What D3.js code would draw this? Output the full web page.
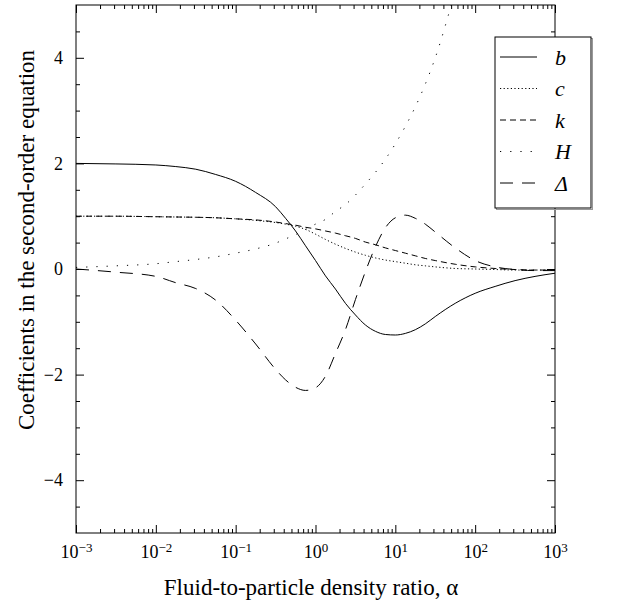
<!DOCTYPE html>
<html lang="en">
<head>
<meta charset="utf-8">
<title>Coefficients in the second-order equation</title>
<script src="https://d3js.org/d3.v7.min.js"></script>
<style>
	body { margin: 0; background: #fff; }
	svg text { font-family: "Liberation Serif", "Times New Roman", "DejaVu Serif", serif; fill: #000; }
	.axis text { font-size: 18px; }
	.axis line { stroke: #000; stroke-width: 1; }
	.axis-title { font-size: 23px; }
	.legend-label { font-size: 22px; font-style: italic; }
	.curve { fill: none; stroke: #000; stroke-width: 1; }
</style>
</head>
<body>
<div id="chart"></div>
<script>
// log10 of the density ratio alpha
const logAlpha = [-3, -2.5, -2, -1.75, -1.5, -1.25, -1, -0.75, -0.5, -0.375, -0.25, -0.125, 0, 0.125, 0.25, 0.375,
	0.5, 0.625, 0.75, 0.875, 1, 1.125, 1.25, 1.375, 1.5, 1.75, 2, 2.25, 2.5, 2.75, 3];

const bVals = [2.00, 1.99, 1.97, 1.94, 1.89, 1.79, 1.66, 1.45, 1.18, 0.96, 0.72, 0.44, 0.16, -0.13, -0.38, -0.65,
	-0.87, -1.06, -1.18, -1.24, -1.25, -1.22, -1.15, -1.04, -0.90, -0.65, -0.46, -0.33, -0.22, -0.14, -0.08];
const cVals = [1.00, 1.00, 0.99, 0.985, 0.98, 0.97, 0.95, 0.92, 0.88, 0.85, 0.81, 0.75, 0.66, 0.56, 0.47, 0.39,
	0.32, 0.26, 0.21, 0.17, 0.14, 0.11, 0.08, 0.06, 0.04, 0.01, 0.00, -0.01, -0.02, -0.02, -0.02];
const kVals = [1.00, 1.00, 0.99, 0.985, 0.98, 0.97, 0.95, 0.93, 0.89, 0.86, 0.83, 0.79, 0.76, 0.72, 0.68, 0.63,
	0.58, 0.51, 0.46, 0.40, 0.35, 0.30, 0.25, 0.20, 0.16, 0.09, 0.04, 0.01, -0.01, -0.02, -0.02];
const hVals = [0.03, 0.06, 0.10, 0.14, 0.18, 0.23, 0.30, 0.38, 0.49, 0.57, 0.65, 0.75, 0.85, 0.94, 1.09, 1.22,
	1.40, 1.61, 1.83, 2.08, 2.37, 2.70, 3.07, 3.50, 4.00, 5.25, 6.50, null, null, null, null];
const deltaVals = [0.00, -0.06, -0.14, -0.26, -0.37, -0.59, -0.97, -1.42, -1.90, -2.10, -2.24, -2.30, -2.25, -2.03, -1.60, -1.15,
	-0.58, -0.05, 0.42, 0.78, 0.97, 1.02, 0.96, 0.85, 0.70, 0.40, 0.16, 0.04, -0.01, -0.03, -0.03];

const seriesNames = ["b", "c", "k", "H", "\u0394"];
const seriesValues = [bVals, cVals, kVals, hVals, deltaVals];
const seriesDash = ["none", "1.2,2.4", "6,4", "1.2,9", "13,9"];

const xMajor = [1e-3, 1e-2, 1e-1, 1e0, 1e1, 1e2, 1e3];
const yMajor = [-4, -2, 0, 2, 4];

const margin = { top: 5, right: 69, bottom: 77, left: 76 };
const width = 624 - margin.left - margin.right;
const height = 610 - margin.top - margin.bottom;

const xMinor = [];
for (let e = -3; e < 3; e++) for (let m = 2; m <= 9; m++) xMinor.push(m * Math.pow(10, e));
const yMinor = d3.range(-4.5, 5, 0.5).filter(v => yMajor.indexOf(v) < 0);

const x = d3.scaleLog().domain([1e-3, 1e3]).range([0, width]);
const y = d3.scaleLinear().domain([-5, 5]).range([height, 0]);

const svg = d3.select("#chart").append("svg")
	.attr("width", 624).attr("height", 610);
const g = svg.append("g").attr("transform", "translate(" + margin.left + "," + margin.top + ")");

svg.append("defs").append("clipPath").attr("id", "clip")
	.append("rect").attr("width", width).attr("height", height);

// ticks pointing inwards on all four sides
g.append("g").attr("class", "axis").attr("transform", "translate(0," + height + ")")
	.call(d3.axisBottom(x).tickValues(xMinor).tickSize(-4).tickSizeOuter(0).tickFormat(""));
const xb = g.append("g").attr("class", "axis").attr("transform", "translate(0," + height + ")")
	.call(d3.axisBottom(x).tickValues(xMajor).tickSize(-8).tickSizeOuter(0).tickPadding(12));
xb.selectAll(".tick text").each(function(d) {
	const t = d3.select(this).text("");
	t.append("tspan").text("10");
	t.append("tspan").attr("dy", "-0.45em").style("font-size", "13px")
		.text(Math.round(Math.log10(d)).toString().replace("-", "\u2212"));
});
g.append("g").attr("class", "axis")
	.call(d3.axisTop(x).tickValues(xMinor).tickSize(-4).tickSizeOuter(0).tickFormat(""));
g.append("g").attr("class", "axis")
	.call(d3.axisTop(x).tickValues(xMajor).tickSize(-8).tickSizeOuter(0).tickFormat(""));

g.append("g").attr("class", "axis")
	.call(d3.axisLeft(y).tickValues(yMinor).tickSize(-4).tickSizeOuter(0).tickFormat(""));
g.append("g").attr("class", "axis")
	.call(d3.axisLeft(y).tickValues(yMajor).tickSize(-8).tickSizeOuter(0).tickPadding(13).tickFormat(d3.format("d")));
g.append("g").attr("class", "axis").attr("transform", "translate(" + width + ",0)")
	.call(d3.axisRight(y).tickValues(yMinor).tickSize(-4).tickSizeOuter(0).tickFormat(""));
g.append("g").attr("class", "axis").attr("transform", "translate(" + width + ",0)")
	.call(d3.axisRight(y).tickValues(yMajor).tickSize(-8).tickSizeOuter(0).tickFormat(""));
g.selectAll(".axis path.domain").remove();
g.selectAll(".axis").attr("font-family", null).attr("font-size", null);

g.append("rect").attr("width", width).attr("height", height)
	.attr("fill", "none").attr("stroke", "#000").attr("stroke-width", 1);

// curves
const line = d3.line()
	.defined(d => d.v != null)
	.x(d => x(Math.pow(10, d.L)))
	.y(d => y(d.v))
	.curve(d3.curveMonotoneX);

const plot = g.append("g").attr("clip-path", "url(#clip)");
seriesValues.forEach(function(vals, i) {
	const pts = logAlpha.map((L, j) => ({ L: L, v: vals[j] }));
	plot.append("path").datum(pts)
		.attr("class", "curve")
		.attr("stroke-dasharray", seriesDash[i])
		.attr("d", line);
});

// legend
const lg = g.append("g").attr("transform", "translate(" + (495 - margin.left) + "," + (37 - margin.top) + ")");
lg.append("rect").attr("x", 1.5).attr("y", 1.5).attr("width", 96).attr("height", 171)
	.attr("fill", "none").attr("stroke", "#999").attr("stroke-width", 1);
lg.append("rect").attr("width", 96).attr("height", 171)
	.attr("fill", "#fff").attr("stroke", "#000").attr("stroke-width", 1);
seriesNames.forEach(function(name, i) {
	const yy = 20 + i * 31.5;
	lg.append("line").attr("x1", 5).attr("x2", 42).attr("y1", yy).attr("y2", yy)
		.attr("stroke", "#000").attr("stroke-width", 1).attr("stroke-dasharray", seriesDash[i]);
	lg.append("text").attr("class", "legend-label").attr("x", 60).attr("y", yy)
		.attr("dy", "0.35em").text(name);
});

// axis titles
svg.append("text").attr("class", "axis-title")
	.attr("text-anchor", "middle")
	.attr("x", 311).attr("y", 595)
	.text("Fluid-to-particle density ratio, \u03b1");
svg.append("text").attr("class", "axis-title")
	.attr("text-anchor", "middle")
	.attr("transform", "translate(34,240) rotate(-90)")
	.text("Coefficients in the second-order equation");
</script>
</body>
</html>
